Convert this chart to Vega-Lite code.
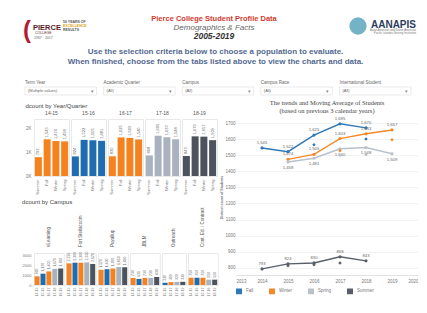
{
  "$schema": "https://vega.github.io/schema/vega-lite/v6.json",
  "padding": {"left": 22, "top": 12, "right": 0, "bottom": 0},
  "background": "white",
  "config": {
    "font": "Liberation Sans",
    "view": {"stroke": null},
    "axis": {"labelFontSize": 4.5, "titleFontSize": 4.5, "labelColor": "#777", "titleColor": "#777", "domain": false, "ticks": false, "grid": false, "labelPadding": 2},
    "header": {"labelFontSize": 5, "labelColor": "#555"},
    "title": {"fontSize": 6, "fontWeight": "normal", "color": "#444", "anchor": "start"}
  },
  "datasets": {
    "header": [
      {"k": "t1", "text": "Pierce College Student Profile Data"},
      {"k": "t2", "text": "Demographics & Facts"},
      {"k": "t3", "text": "2005-2019"},
      {"k": "swoosh", "text": "("},
      {"k": "pierce", "text": "PIERCE"},
      {"k": "college", "text": "COLLEGE"},
      {"k": "yrs", "text": "1967 · 2017"},
      {"k": "fifty", "text": "50 YEARS OF"},
      {"k": "excel", "text": "EXCELLENCE"},
      {"k": "results", "text": "RESULTS"},
      {"k": "globe", "text": ""},
      {"k": "aanapis", "text": "AANAPIS"},
      {"k": "sub1", "text": "Asian American and Native American"},
      {"k": "sub2", "text": "Pacific Islander-Serving Institution"}
    ],
    "filters": [
      {"name": "Term Year", "value": "(Multiple values)"},
      {"name": "Academic Quarter", "value": "(All)"},
      {"name": "Campus", "value": "(All)"},
      {"name": "Campus Race", "value": "(All)"},
      {"name": "International Student", "value": "(All)"}
    ],
    "yq": [
      {"year": "14-15", "quarter": "Summer", "count": 793},
      {"year": "14-15", "quarter": "Fall", "count": 1545},
      {"year": "14-15", "quarter": "Winter", "count": 1474},
      {"year": "14-15", "quarter": "Spring", "count": 1458},
      {"year": "15-16", "quarter": "Summer", "count": 824},
      {"year": "15-16", "quarter": "Fall", "count": 1522},
      {"year": "15-16", "quarter": "Winter", "count": 1505},
      {"year": "15-16", "quarter": "Spring", "count": 1481},
      {"year": "16-17", "quarter": "Summer", "count": 830},
      {"year": "16-17", "quarter": "Fall", "count": 1625},
      {"year": "16-17", "quarter": "Winter", "count": 1603},
      {"year": "16-17", "quarter": "Spring", "count": 1540},
      {"year": "17-18", "quarter": "Summer", "count": 868},
      {"year": "17-18", "quarter": "Fall", "count": 1695},
      {"year": "17-18", "quarter": "Winter", "count": 1633},
      {"year": "17-18", "quarter": "Spring", "count": 1548},
      {"year": "18-19", "quarter": "Summer", "count": 843},
      {"year": "18-19", "quarter": "Fall", "count": 1670},
      {"year": "18-19", "quarter": "Winter", "count": 1657},
      {"year": "18-19", "quarter": "Spring", "count": 1509}
    ],
    "campus": [
      {"campus": "eLearning", "year": "14-15", "count": 900},
      {"campus": "eLearning", "year": "15-16", "count": 1170},
      {"campus": "eLearning", "year": "16-17", "count": 1400},
      {"campus": "eLearning", "year": "17-18", "count": 1670},
      {"campus": "eLearning", "year": "18-19", "count": 1700},
      {"campus": "Fort Steilacoom", "year": "14-15", "count": 2230},
      {"campus": "Fort Steilacoom", "year": "15-16", "count": 2300},
      {"campus": "Fort Steilacoom", "year": "16-17", "count": 2300},
      {"campus": "Fort Steilacoom", "year": "17-18", "count": 2330},
      {"campus": "Fort Steilacoom", "year": "18-19", "count": 2170},
      {"campus": "Puyallup", "year": "14-15", "count": 1570},
      {"campus": "Puyallup", "year": "15-16", "count": 1630},
      {"campus": "Puyallup", "year": "16-17", "count": 1700},
      {"campus": "Puyallup", "year": "17-18", "count": 1850},
      {"campus": "Puyallup", "year": "18-19", "count": 1830},
      {"campus": "JBLM", "year": "14-15", "count": 730},
      {"campus": "JBLM", "year": "15-16", "count": 630},
      {"campus": "JBLM", "year": "16-17", "count": 730},
      {"campus": "JBLM", "year": "17-18", "count": 730},
      {"campus": "JBLM", "year": "18-19", "count": 830},
      {"campus": "Outreach", "year": "15-16", "count": 230},
      {"campus": "Outreach", "year": "16-17", "count": 300},
      {"campus": "Outreach", "year": "17-18", "count": 320},
      {"campus": "Outreach", "year": "18-19", "count": 330},
      {"campus": "Cont. Ed. / Contract", "year": "14-15", "count": 750},
      {"campus": "Cont. Ed. / Contract", "year": "15-16", "count": 750},
      {"campus": "Cont. Ed. / Contract", "year": "16-17", "count": 750},
      {"campus": "Cont. Ed. / Contract", "year": "17-18", "count": 550},
      {"campus": "Cont. Ed. / Contract", "year": "18-19", "count": 550}
    ],
    "trend": [
      {"quarter": "Fall", "yr": 2014, "students": 1545},
      {"quarter": "Fall", "yr": 2015, "students": 1522},
      {"quarter": "Fall", "yr": 2016, "students": 1625},
      {"quarter": "Fall", "yr": 2017, "students": 1695},
      {"quarter": "Fall", "yr": 2018, "students": 1670},
      {"quarter": "Winter", "yr": 2015, "students": 1474},
      {"quarter": "Winter", "yr": 2016, "students": 1505},
      {"quarter": "Winter", "yr": 2017, "students": 1603},
      {"quarter": "Winter", "yr": 2018, "students": 1633},
      {"quarter": "Winter", "yr": 2019, "students": 1657},
      {"quarter": "Spring", "yr": 2015, "students": 1458},
      {"quarter": "Spring", "yr": 2016, "students": 1481},
      {"quarter": "Spring", "yr": 2017, "students": 1540},
      {"quarter": "Spring", "yr": 2018, "students": 1548},
      {"quarter": "Spring", "yr": 2019, "students": 1509},
      {"quarter": "Summer", "yr": 2014, "students": 793},
      {"quarter": "Summer", "yr": 2015, "students": 824},
      {"quarter": "Summer", "yr": 2016, "students": 830},
      {"quarter": "Summer", "yr": 2017, "students": 868},
      {"quarter": "Summer", "yr": 2018, "students": 843}
    ],
    "avg": [
      {"quarter": "Fall", "yr": 2016, "students": 1565},
      {"quarter": "Fall", "yr": 2018, "students": 1600},
      {"quarter": "Winter", "yr": 2017, "students": 1528},
      {"quarter": "Winter", "yr": 2019, "students": 1596},
      {"quarter": "Spring", "yr": 2017, "students": 1500},
      {"quarter": "Spring", "yr": 2018, "students": 1503},
      {"quarter": "Summer", "yr": 2015, "students": 812},
      {"quarter": "Summer", "yr": 2016, "students": 818},
      {"quarter": "Summer", "yr": 2017, "students": 830}
    ]
  },
  "resolve": {"scale": {"color": "independent"}, "legend": {"color": "independent"}},
  "spacing": 4,
  "vconcat": [
    {
      "width": 377,
      "height": 32,
      "data": {"name": "header"},
      "encoding": {
        "x": {"field": "slot", "type": "nominal", "scale": {"type": "point", "domain": ["left", "center", "right"], "range": [-9, 377], "padding": 0}, "axis": null},
        "y": {"field": "row", "type": "nominal", "scale": {"type": "point", "domain": ["1", "2", "3"], "padding": 1}, "axis": null}
      },
      "transform": [
        {"lookup": "k", "from": {"data": {"values": [
          {"k": "t1", "slot": "center", "row": "1"},
          {"k": "t2", "slot": "center", "row": "2"},
          {"k": "t3", "slot": "center", "row": "3"},
          {"k": "swoosh", "slot": "left", "row": "2"},
          {"k": "pierce", "slot": "left", "row": "2"},
          {"k": "college", "slot": "left", "row": "3"},
          {"k": "yrs", "slot": "left", "row": "3"},
          {"k": "fifty", "slot": "left", "row": "1"},
          {"k": "excel", "slot": "left", "row": "2"},
          {"k": "results", "slot": "left", "row": "2"},
          {"k": "globe", "slot": "right", "row": "2"},
          {"k": "aanapis", "slot": "right", "row": "2"},
          {"k": "sub1", "slot": "right", "row": "3"},
          {"k": "sub2", "slot": "right", "row": "3"}
        ]}, "key": "k", "fields": ["slot", "row"]}}
      ],
      "layer": [
        {"transform": [{"filter": "datum.k == 't1'"}], "mark": {"type": "text", "color": "#d23a2e", "fontSize": 7.5, "fontWeight": "bold", "dy": -1, "dx": -4}, "encoding": {"text": {"field": "text"}}},
        {"transform": [{"filter": "datum.k == 't2'"}], "mark": {"type": "text", "color": "#666", "fontSize": 8, "fontStyle": "italic", "dx": -4}, "encoding": {"text": {"field": "text"}}},
        {"transform": [{"filter": "datum.k == 't3'"}], "mark": {"type": "text", "color": "#333", "fontSize": 8.5, "fontStyle": "italic", "fontWeight": "bold", "dx": -4}, "encoding": {"text": {"field": "text"}}},
        {"transform": [{"filter": "datum.k == 'swoosh'"}], "mark": {"type": "text", "color": "#b31b34", "fontSize": 24, "fontWeight": "bold", "align": "left", "dx": -2, "dy": 3}, "encoding": {"text": {"field": "text"}}},
        {"transform": [{"filter": "datum.k == 'pierce'"}], "mark": {"type": "text", "color": "#5b1c26", "fontSize": 7.5, "fontWeight": "bold", "align": "left", "dx": 8, "dy": 0}, "encoding": {"text": {"field": "text"}}},
        {"transform": [{"filter": "datum.k == 'college'"}], "mark": {"type": "text", "color": "#5b1c26", "fontSize": 3.5, "align": "left", "dx": 10, "dy": -3}, "encoding": {"text": {"field": "text"}}},
        {"transform": [{"filter": "datum.k == 'yrs'"}], "mark": {"type": "text", "color": "#666", "fontSize": 3.5, "align": "left", "dx": 9, "dy": 2}, "encoding": {"text": {"field": "text"}}},
        {"transform": [{"filter": "datum.k == 'fifty'"}], "mark": {"type": "text", "color": "#555", "fontSize": 3.5, "fontWeight": "bold", "align": "left", "dx": 38, "dy": 2}, "encoding": {"text": {"field": "text"}}},
        {"transform": [{"filter": "datum.k == 'excel'"}], "mark": {"type": "text", "color": "#e0a416", "fontSize": 3.5, "fontWeight": "bold", "align": "left", "dx": 38, "dy": -2}, "encoding": {"text": {"field": "text"}}},
        {"transform": [{"filter": "datum.k == 'results'"}], "mark": {"type": "text", "color": "#555", "fontSize": 3.5, "fontWeight": "bold", "align": "left", "dx": 38, "dy": 2}, "encoding": {"text": {"field": "text"}}},
        {"transform": [{"filter": "datum.k == 'globe'"}], "mark": {"type": "point", "shape": "circle", "filled": true, "color": "#5aa6bb", "opacity": 0.85, "size": 300}, "encoding": {"xOffset": {"value": -53}, "yOffset": {"value": -2}}},
        {"transform": [{"filter": "datum.k == 'aanapis'"}], "mark": {"type": "text", "color": "#2b3d5c", "fontSize": 10, "fontWeight": "bold", "align": "right", "dx": 5, "dy": -3}, "encoding": {"text": {"field": "text"}}},
        {"transform": [{"filter": "datum.k == 'sub1'"}], "mark": {"type": "text", "color": "#777", "fontSize": 2.8, "align": "right", "dx": 5, "dy": -6}, "encoding": {"text": {"field": "text"}}},
        {"transform": [{"filter": "datum.k == 'sub2'"}], "mark": {"type": "text", "color": "#777", "fontSize": 2.8, "align": "right", "dx": 5, "dy": -3}, "encoding": {"text": {"field": "text"}}}
      ]
    },
    {
      "title": {"text": ["Use the selection criteria below to choose a population to evaluate.", "When finished, choose from the tabs listed above to view the charts and data."], "fontSize": 8, "fontWeight": "bold", "color": "#53698f", "anchor": "middle", "lineHeight": 10, "offset": 14, "dx": -7},
      "width": 377,
      "height": 8,
      "data": {"name": "filters"},
      "encoding": {
        "x": {"field": "name", "type": "nominal", "sort": null, "scale": {"type": "band", "range": [-9, 377], "paddingInner": 0.09, "paddingOuter": 0}, "axis": null}
      },
      "layer": [
        {"mark": {"type": "rect", "fill": "white", "stroke": "#dcdcdc", "strokeWidth": 0.6}},
        {"mark": {"type": "text", "align": "left", "baseline": "bottom", "dy": -6, "fontSize": 4.5, "color": "#666"}, "encoding": {"x": {"field": "name", "type": "nominal", "sort": null, "bandPosition": 0}, "text": {"field": "name"}}},
        {"mark": {"type": "text", "align": "left", "baseline": "middle", "dx": 3, "fontSize": 4, "color": "#666"}, "encoding": {"x": {"field": "name", "type": "nominal", "sort": null, "bandPosition": 0}, "text": {"field": "value"}}},
        {"mark": {"type": "text", "align": "right", "baseline": "middle", "dx": -3, "fontSize": 5, "color": "#888", "text": "▾"}, "encoding": {"x": {"field": "name", "type": "nominal", "sort": null, "bandPosition": 1}}}
      ]
    },
    {
      "spacing": 0,
      "resolve": {"scale": {"color": "independent"}, "legend": {"color": "independent"}},
      "hconcat": [
        {
          "spacing": 4,
          "vconcat": [
            {
              "title": {"text": "dcount by Year/Quarter", "offset": 2},
              "data": {"name": "yq"},
              "facet": {"column": {"field": "year", "type": "nominal", "header": {"title": null, "labelPadding": 2}}},
              "spacing": 0,
              "spec": {
                "width": 35,
                "height": 57,
                "view": {"stroke": "#e9e9e9"},
                "encoding": {
                  "x": {"field": "quarter", "type": "nominal", "sort": ["Summer", "Fall", "Winter", "Spring"], "scale": {"paddingInner": 0.2, "paddingOuter": 0.1}, "axis": {"title": null, "labelAngle": -90, "labelFontSize": 4}},
                  "y": {"field": "count", "type": "quantitative", "scale": {"domain": [0, 2400], "nice": false}, "axis": {"title": null, "values": [0, 1000, 2000], "labelExpr": "datum.value / 1000 + 'K'"}}
                },
                "layer": [
                  {"mark": {"type": "bar"}, "encoding": {"color": {"field": "year", "type": "nominal", "scale": {"domain": ["14-15", "15-16", "16-17", "17-18", "18-19"], "range": ["#f4831f", "#1f6db0", "#f4831f", "#a9b3c0", "#4c535d"]}, "legend": null}}},
                  {"mark": {"type": "text", "angle": 270, "align": "left", "baseline": "middle", "dx": 2, "fontSize": 4, "color": "#666"}, "encoding": {"text": {"field": "count", "format": ","}}}
                ]
              }
            },
            {
              "title": {"text": "dcount by Campus", "offset": 2},
              "data": {"name": "campus"},
              "facet": {"column": {"field": "campus", "type": "nominal", "sort": ["eLearning", "Fort Steilacoom", "Puyallup", "JBLM", "Outreach", "Cont. Ed. / Contract"], "header": {"title": null, "labelAngle": -90, "labelAlign": "right", "labelBaseline": "middle", "labelOrient": "top", "labelFontSize": 4.5, "labelPadding": 4}}},
              "spacing": 0,
              "resolve": {"scale": {"x": "independent"}},
              "spec": {
                "width": {"step": 5.9},
                "height": 32,
                "view": {"stroke": "#e9e9e9"},
                "encoding": {
                  "x": {"field": "year", "type": "nominal", "scale": {"paddingInner": 0.15, "paddingOuter": 0.1}, "axis": {"title": null, "labelAngle": -90, "labelFontSize": 3.5}},
                  "y": {"field": "count", "type": "quantitative", "scale": {"domain": [0, 3300], "nice": false}, "axis": {"title": null, "values": [0, 1000, 2000, 3000], "format": "d", "labelFontSize": 4}}
                },
                "layer": [
                  {"mark": {"type": "bar"}, "encoding": {"color": {"field": "year", "type": "nominal", "scale": {"domain": ["14-15", "15-16", "16-17", "17-18", "18-19"], "range": ["#f4831f", "#1f6db0", "#f4831f", "#a9b3c0", "#4c535d"]}, "legend": null}}},
                  {"mark": {"type": "text", "angle": 270, "align": "left", "baseline": "middle", "dx": 2, "fontSize": 3.5, "color": "#666"}, "encoding": {"text": {"field": "count", "format": ","}}}
                ]
              }
            }
          ]
        },
        {
          "title": {"text": ["The trends and Moving Average of Students", "(based on previous 3 calendar years)"], "font": "Liberation Serif", "fontSize": 6.5, "color": "#444", "anchor": "middle", "lineHeight": 8, "offset": 2},
          "data": {"name": "trend"},
          "width": 182,
          "height": 156,
          "encoding": {
            "x": {"field": "yr", "type": "quantitative", "scale": {"domain": [2013, 2020], "nice": false, "zero": false}, "axis": {"title": null, "format": "d", "values": [2013, 2014, 2015, 2016, 2017, 2018, 2019, 2020], "labelPadding": 3, "domain": true, "domainColor": "#e2e2e2"}},
            "y": {"field": "students", "type": "quantitative", "scale": {"domain": [755, 1725], "nice": false, "zero": false}, "axis": {"title": "Distinct count of Students", "titleFontSize": 3.5, "titlePadding": 1, "labelPadding": 1, "values": [800, 900, 1000, 1100, 1200, 1300, 1400, 1500, 1600, 1700], "format": "d", "grid": true, "gridColor": "#f3f3f3"}},
            "color": {"field": "quarter", "type": "nominal", "scale": {"domain": ["Fall", "Winter", "Spring", "Summer"], "range": ["#2f78b5", "#f4892a", "#b9c1cc", "#585f69"]}, "legend": {"orient": "bottom", "direction": "horizontal", "title": null, "symbolType": "square", "symbolSize": 20, "labelFontSize": 4.5, "labelColor": "#777", "columnPadding": 12, "offset": 5}}
          },
          "layer": [
            {"mark": {"type": "line", "strokeWidth": 1.4}},
            {"mark": {"type": "point", "filled": true, "size": 10, "opacity": 1}},
            {"transform": [{"filter": "datum.quarter != 'Spring'"}], "mark": {"type": "text", "dy": -5, "fontSize": 4.2}, "encoding": {"text": {"field": "students", "format": ","}, "color": {"value": "#666"}}},
            {"transform": [{"filter": "datum.quarter == 'Spring'"}], "mark": {"type": "text", "dy": 6, "fontSize": 4.2}, "encoding": {"text": {"field": "students", "format": ","}, "color": {"value": "#666"}}},
            {"data": {"name": "avg"}, "mark": {"type": "point", "shape": "diamond", "filled": true, "size": 12, "opacity": 1}}
          ]
        }
      ]
    }
  ]
}
